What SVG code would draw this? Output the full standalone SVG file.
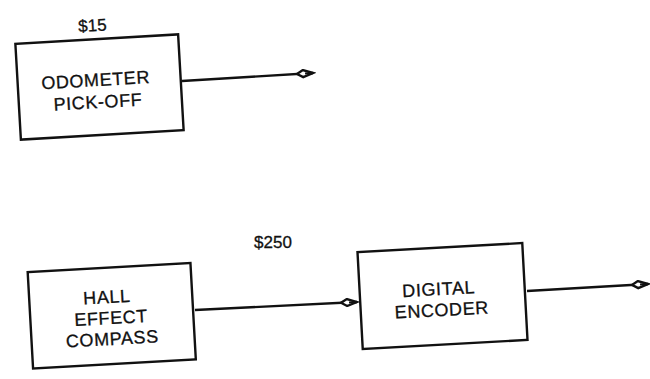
<svg xmlns="http://www.w3.org/2000/svg" width="650" height="379" viewBox="0 0 650 379">
<style>
.box{fill:#fff;stroke:#111;stroke-width:2.4}
.lbl{font-family:"Liberation Sans",Arial,sans-serif;font-size:18px;fill:#111;stroke:#111;stroke-width:0.3;text-anchor:middle;letter-spacing:0.6px}
.cost{font-family:"Liberation Sans",Arial,sans-serif;font-size:17px;fill:#111;stroke:#111;stroke-width:0.3;text-anchor:middle}
.wire{fill:none;stroke:#111;stroke-width:2.4}
</style>
<defs>
<marker id="arr" markerUnits="userSpaceOnUse" markerWidth="20" markerHeight="10" refX="17" refY="5" orient="auto">
<path d="M1,5 L7,1.5 L17,5 L7,8.5 Z" fill="#fff" stroke="#111" stroke-width="2.4"/>
<path d="M9,5 L17,5" stroke="#111" stroke-width="2"/>
</marker>
</defs>
<rect width="650" height="379" fill="#fff"/>
<g id="odometer" transform="rotate(-3.3 99.5 87)">
<rect class="box" x="18" y="39" width="163" height="96"/>
<text class="lbl" x="96" y="86">ODOMETER</text>
<text class="lbl" x="97" y="108">PICK-OFF</text>
<text class="cost" x="96" y="31">$15</text>
</g>
<g id="compass" transform="rotate(-3.2 111.75 315.75)">
<rect class="box" x="30.25" y="267.5" width="163" height="96.5"/>
<text class="lbl" x="108" y="303">HALL</text>
<text class="lbl" x="111" y="324">EFFECT</text>
<text class="lbl" x="111" y="345">COMPASS</text>
</g>
<g id="cost250">
<text class="cost" x="273" y="248">$250</text>
</g>
<g id="encoder" transform="rotate(-3.1 442.5 296)">
<rect class="box" x="360" y="247.5" width="165" height="97"/>
<text class="lbl" x="439" y="295">DIGITAL</text>
<text class="lbl" x="441" y="316">ENCODER</text>
</g>
<g id="connectors">
<path class="wire" d="M182,81 L313,73" marker-end="url(#arr)"/>
<path class="wire" d="M195,310 L357,302" marker-end="url(#arr)"/>
<path class="wire" d="M527,291 L648,284" marker-end="url(#arr)"/>
</g>
</svg>
